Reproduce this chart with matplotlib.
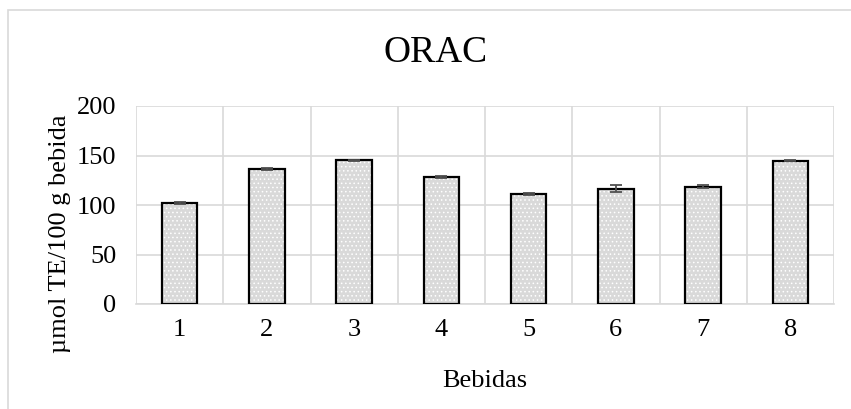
import matplotlib
matplotlib.use("Agg")
import matplotlib.pyplot as plt
from matplotlib.patches import Rectangle
import numpy as np

categories = ["1", "2", "3", "4", "5", "6", "7", "8"]
values = [102.5, 136.5, 145.0, 128.0, 111.0, 116.5, 118.5, 144.8]
errors = [1.0, 0.8, 0.8, 1.0, 1.2, 3.2, 1.5, 0.7]
yticks = [0, 50, 100, 150, 200]

plt.rcParams['font.family'] = ['Liberation Serif', 'DejaVu Serif']
plt.rcParams['hatch.linewidth'] = 0.6

W, H = 851, 409
fig = plt.figure(figsize=(W / 100, H / 100), dpi=100)
ax = fig.add_axes([136 / W, (H - 304) / H, (834 - 136) / W, (304 - 106) / H])

x = np.arange(1, len(categories) + 1)
bw = 0.405
# fill with white dot pattern
ax.bar(x, values, width=bw, color='#d9d9d9', edgecolor='white', hatch='....',
       linewidth=0, zorder=2)
# black outline
ax.bar(x, values, width=bw, facecolor='none', edgecolor='black', linewidth=1.6,
       zorder=3)
ax.errorbar(x, values, yerr=errors, fmt='none', ecolor='#505050', elinewidth=1.3,
            capsize=4.2, capthick=1.3, zorder=4)

ax.set_xlim(0.5, len(categories) + 0.5)
ax.set_ylim(0, 200)
ax.set_yticks(yticks)
ax.set_yticklabels([str(v) for v in yticks])
ax.set_xticks(x)
ax.set_xticklabels(categories)
ax.set_xticks(np.arange(0.5, len(categories) + 1), minor=True)

ax.grid(True, axis='y', color='#d9d9d9', linewidth=1.2, zorder=0)
ax.grid(True, axis='x', which='minor', color='#d9d9d9', linewidth=1.2, zorder=0)
ax.grid(False, axis='x', which='major')
ax.set_axisbelow(True)
for s in ['top', 'right', 'left']:
    ax.spines[s].set_visible(False)
ax.spines['bottom'].set_color('#d9d9d9')
ax.spines['bottom'].set_linewidth(1.2)
ax.tick_params(axis='both', which='both', length=0, labelsize=19)
ax.tick_params(axis='x', pad=11)
ax.tick_params(axis='y', pad=14)

fig.text(436 / W, (H - 53) / H, "ORAC", ha='center', va='center', fontsize=27)
fig.text(485 / W, (H - 381) / H, "Bebidas", ha='center', va='center', fontsize=19)
fig.text(60 / W, (H - 234) / H, "µmol TE/100 g bebida", ha='center', va='center',
         rotation=90, fontsize=19)

fig.patches.append(Rectangle((8 / W, -0.05), 1.2, (H - 10) / H + 0.05,
                             transform=fig.transFigure, fill=False,
                             edgecolor='#d9d9d9', linewidth=1.2))

fig.savefig("out.png", dpi=100)
